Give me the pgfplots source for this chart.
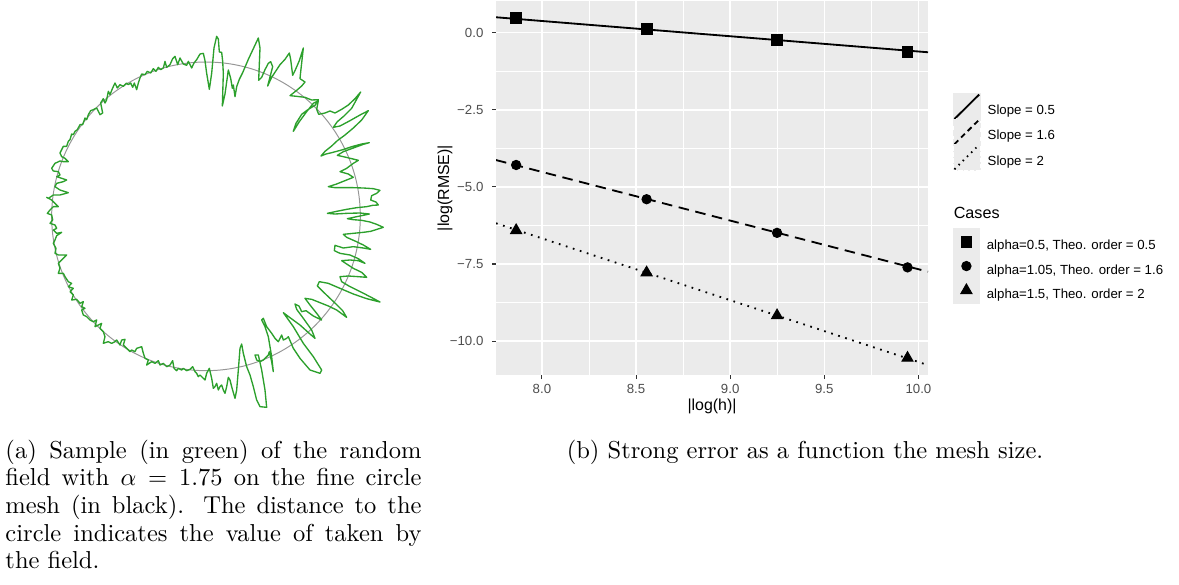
\documentclass[border=0pt]{standalone}
\usepackage{fontspec}
\usepackage{pgfplots}
\pgfplotsset{compat=1.18}
\newfontfamily\ggfont{Liberation Sans}
\definecolor{fieldgreen}{RGB}{44,160,44}
\definecolor{meshgray}{RGB}{150,150,150}
\definecolor{panelbg}{RGB}{235,235,235}
\definecolor{tickgray}{RGB}{77,77,77}
\definecolor{ticklinegray}{RGB}{51,51,51}

% legend keys of the ggplot panel: grey square with the line or mark on it
\pgfplotsset{
  linekey/.style={legend image code/.code={
    \fill[panelbg] (0pt,-3.2pt) rectangle (10.7pt,7.4pt);
    \draw[##1] (0.3pt,-2.9pt) -- (10.4pt,7.1pt);}},
  markkey/.style={legend image code/.code={
    \fill[panelbg] (0pt,-3.2pt) rectangle (10.7pt,7.4pt);
    \draw[##1] plot coordinates {(5.35pt,2.1pt)};}},
  ggleg/.style={hide axis, scale only axis, width=1pt, height=1pt,
    xmin=0, xmax=1, ymin=0, ymax=1, anchor=north west,
    legend cell align=left,
    legend style={at={(0,1)}, anchor=north west, draw=none, fill=none,
      inner sep=0pt, row sep=-1.1pt, column sep=2.8pt,
      font=\ggfont\fontsize{5.4}{6}\selectfont, nodes={inner sep=0pt}}},
}

\begin{document}
% 1 px of the reference = 0.408163pt
\begin{tikzpicture}[x=0.408163pt,y=-0.408163pt]
\path[use as bounding box] (0,0) rectangle (1179,585);

%% (a) random field on the circle mesh
\begin{axis}[at={(0pt,-8.163pt)}, anchor=north west, hide axis, clip=false,
  x=0.136054pt, y=0.136054pt, y dir=reverse,
  xmin=0, xmax=1200, ymin=0, ymax=1200]
\draw[meshgray, line width=0.4pt] (axis cs:618,589) circle[radius=463];
\addplot[fieldgreen, line width=0.55pt, line join=round] coordinates {
(600,102) (590,119) (582,129) (575,144) (565,124) (560,136) (550,132) (540,114)
(533,134) (525,109) (518,116) (510,134) (500,142) (495,124) (490,144) (482,149)
(475,142) (468,154) (460,146) (452,159) (442,154) (435,164) (425,162) (420,174)
(415,189) (410,209) (403,189) (398,202) (392,189) (385,194) (380,189) (370,199)
(360,194) (352,204) (345,189) (338,204) (330,224) (325,214) (320,239) (315,249)
(310,236) (302,249) (308,279) (300,284) (290,264) (280,269) (272,272) (265,284)
(260,299) (255,294) (248,314) (240,314) (232,329) (225,334) (220,344) (215,342)
(210,359) (205,364) (200,379) (190,379) (185,389) (180,399)
(185,410) (195,415) (205,425) (190,425) (180,423) (165,430) (155,445) (160,453)
(175,455) (180,465) (170,470) (185,475) (200,480) (190,485) (170,490) (165,500)
(180,510) (205,518) (180,525) (160,525) (145,535) (140,532) (155,540) (165,550)
(175,560) (160,560) (150,570) (142,580) (155,585) (158,600) (150,610) (165,615)
(170,625) (160,630) (170,640) (185,637) (170,647) (165,660) (160,670) (168,685)
(165,700) (175,705) (200,705) (190,715) (175,730) (180,745) (175,760) (190,760)
(195,770) (205,785) (215,790) (205,800) (220,805) (210,815) (220,825) (215,840)
(230,838) (240,850) (250,845) (245,860) (255,865) (245,870) (250,885) (260,890)
(270,900) (280,905) (290,900) (285,920) (295,915) (305,910) (300,925) (310,935)
(315,950) (310,970) (325,965) (335,970) (345,965) (350,960) (360,975) (365,960)
(375,958) (370,975) (380,985) (390,995) (395,990) (405,995) (410,985) (425,980)
(430,1000) (435,1015) (445,1020) (440,1035) (455,1025) (465,1030) (475,1022) (480,1035)
(490,1030) (500,1040) (510,1035) (518,1022) (522,1045) (530,1052) (535,1045) (545,1050)
(550,1045) (560,1052) (570,1048) (578,1040) (585,1055) (590,1060) (595,1070)
(600,1065) (605,1070) (615,1080) (620,1060) (628,1045) (635,1075) (640,1105) (645,1100)
(650,1090) (655,1110) (660,1100) (665,1095) (670,1110) (675,1120) (680,1100) (685,1072)
(690,1080) (695,1100) (705,1135) (710,1110) (715,1050) (720,985) (725,972) (730,1000)
(740,1040) (750,1065) (760,1100) (770,1140) (780,1160) (800,1162) (795,1110) (785,1050)
(775,1005) (765,1005) (770,1020) (780,1025) (790,1020) (805,1005) (808,995) (815,1025)
(820,1055) (815,1010) (805,950) (795,920) (785,900) (790,895) (800,920) (815,940)
(825,955) (835,965) (845,945) (850,960) (860,955) (865,950) (880,985) (900,1015)
(930,1050) (960,1060) (965,1050) (940,1010) (910,970) (880,920) (855,885) (850,878)
(870,893) (900,915) (930,942) (945,955) (935,930) (910,895) (890,868) (885,852)
(897,858) (905,875) (918,872) (940,888) (965,900) (950,880) (930,855) (915,835)
(935,838) (960,848) (985,858) (1010,870) (1040,892) (1028,872) (1008,852) (988,833)
(968,814) (952,798) (958,785) (985,790) (1020,805) (1060,822) (1100,836) (1140,846)
(1110,830) (1075,812) (1045,797) (1025,785) (1020,770) (1045,768) (1075,770) (1100,772)
(1085,757) (1060,745) (1040,732) (1025,722) (1050,720) (1075,722) (1095,730) (1075,716)
(1050,705) (1020,700) (1003,692) (1005,676) (1030,684) (1060,680) (1090,684) (1112,688)
(1090,675) (1065,663) (1040,652) (1030,643) (1060,640) (1090,637) (1112,634) (1150,622)
(1130,613) (1110,606) (1085,601) (1060,599) (1042,596) (1070,590) (1090,586) (1108,582)
(1080,579) (1040,580) (1005,582) (982,580) (1010,574) (1040,568) (1070,563) (1100,560)
(1118,556) (1135,555) (1128,546) (1112,540) (1115,527) (1130,520) (1140,511) (1120,506)
(1090,504) (1060,503) (1030,503) (1005,503) (985,500) (1010,492) (1035,482) (1060,472)
(1045,462) (1020,455) (1040,445) (1060,430) (1075,421) (1055,416) (1030,410) (1012,406)
(1030,395) (1060,384) (1090,373) (1108,368) (1085,372) (1055,380) (1025,390) (995,398)
(978,402) (963,408) (975,394) (995,378) (1012,362) (1035,345) (1060,324) (1085,300)
(1105,272) (1080,285) (1050,302) (1020,318) (1000,322) (1012,305) (1032,288) (1055,265)
(1082,216) (1065,236) (1045,255) (1025,268) (1005,279) (990,273) (975,279) (956,283)
(950,268) (955,242) (940,250) (920,275) (898,305) (880,334) (888,310) (905,283)
(925,268) (945,256) (955,239) (935,240) (915,232) (890,229) (870,227) (890,211)
(905,198) (915,186) (900,176) (902,156) (910,84) (898,122) (885,152) (878,166)
(872,118) (868,99) (855,118) (840,134) (815,172) (803,198) (818,140) (812,125)
(805,130) (795,149) (785,172) (776,181) (780,84) (775,54) (760,86) (745,118)
(728,158) (718,178) (710,200) (705,230) (700,195) (697,205) (692,175) (685,150)
(675,222) (667,258) (670,160) (668,124) (665,97) (658,96) (655,57) (650,49)
(642,84) (635,160) (628,208) (620,160) (615,122) (610,100) (600,102)
};
\end{axis}

%% (b) strong error against mesh size
\begin{axis}[at={(202.449pt,-153.061pt)}, anchor=south west, scale only axis,
  width=176.33pt, height=152.65pt,
  xmin=7.756, xmax=10.051, ymin=-11.10, ymax=1.027,
  axis background/.style={fill=panelbg},
  axis line style={draw=none},
  tick pos=left, tick align=outside,
  major tick length=1.63pt, minor tick length=0pt,
  tick style={ticklinegray, line width=0.45pt},
  xtick={8,8.5,9,9.5,10}, xticklabels={8.0,8.5,9.0,9.5,10.0},
  minor xtick={8.25,8.75,9.25,9.75},
  ytick={-10,-7.5,-5,-2.5,0}, yticklabels={−10.0,−7.5,−5.0,−2.5,0.0},
  minor ytick={-8.75,-6.25,-3.75,-1.25},
  grid=both,
  major grid style={white, line width=0.6pt},
  minor grid style={white, line width=0.3pt},
  ticklabel style={font=\ggfont\fontsize{5.4}{6}\selectfont, text=tickgray},
  xticklabel style={yshift=1.2pt},
  xlabel={|log(h)|}, ylabel={|log(RMSE)|},
  every axis x label/.style={at={(axis description cs:0.5,-0.083)}, anchor=center,
    font=\ggfont\fontsize{6.5}{7}\selectfont},
  every axis y label/.style={at={(axis description cs:-0.118,0.5)}, anchor=center,
    rotate=90, font=\ggfont\fontsize{6.5}{7}\selectfont},
]
\addplot[black, line width=0.75pt] coordinates {(7.756,0.50) (10.051,-0.635)};
\addplot[black, line width=0.75pt, dash pattern=on 4.3pt off 2.7pt] coordinates {(7.756,-4.13) (10.051,-7.75)};
\addplot[black, line width=0.75pt, dash pattern=on 0.7pt off 2.3pt] coordinates {(7.756,-6.18) (10.051,-10.78)};
\addplot[only marks, black, mark=square*, mark size=2.2pt] coordinates {
(7.863,0.465) (8.556,0.108) (9.249,-0.249) (9.942,-0.638)};
\addplot[only marks, black, mark=*, mark size=1.9pt] coordinates {
(7.863,-4.29) (8.556,-5.40) (9.249,-6.49) (9.942,-7.61)};
\addplot[only marks, black, mark=triangle*, mark size=2.6pt] coordinates {
(7.863,-6.41) (8.556,-7.78) (9.249,-9.17) (9.942,-10.55)};
\end{axis}

%% legend: slopes
\begin{axis}[ggleg, at={(388.694pt,-37.7pt)}]
\addlegendimage{linekey, black, line width=0.75pt}
\addlegendentry{Slope = 0.5}
\addlegendimage{linekey, black, line width=0.75pt, dash pattern=on 2.2pt off 1.6pt}
\addlegendentry{Slope = 1.6}
\addlegendimage{linekey, black, line width=0.75pt, dash pattern=on 0.6pt off 1.8pt}
\addlegendentry{Slope = 2}
\end{axis}

%% legend: cases
\node[anchor=base west, inner sep=0pt, font=\ggfont\fontsize{6.6}{7}\selectfont] at (953.3,218.3) {Cases};
\begin{axis}[ggleg, at={(388.694pt,-93.0pt)}]
\addlegendimage{markkey, black, mark=square*, mark size=2.2pt}
\addlegendentry{alpha=0.5, Theo. order = 0.5}
\addlegendimage{markkey, black, mark=*, mark size=1.9pt}
\addlegendentry{alpha=1.05, Theo. order = 1.6}
\addlegendimage{markkey, black, mark=triangle*, mark size=2.6pt}
\addlegendentry{alpha=1.5, Theo. order = 2}
\end{axis}

%% sub-captions
\node[anchor=base west, inner sep=0pt, text width=169.8pt, align=justify,
  font=\fontsize{10}{11.3}\selectfont] at (5,458)
  {(a) Sample (in green) of the random\linebreak
   field with $\alpha = 1.75$ on the fine circle\linebreak
   mesh (in black). The distance to the\linebreak
   circle indicates the value of taken by\linebreak
   the field.};
\node[anchor=base, inner sep=0pt, font=\fontsize{10}{11.3}\selectfont] at (805,458)
  {(b) Strong error as a function the mesh size.};
\end{tikzpicture}
\end{document}
